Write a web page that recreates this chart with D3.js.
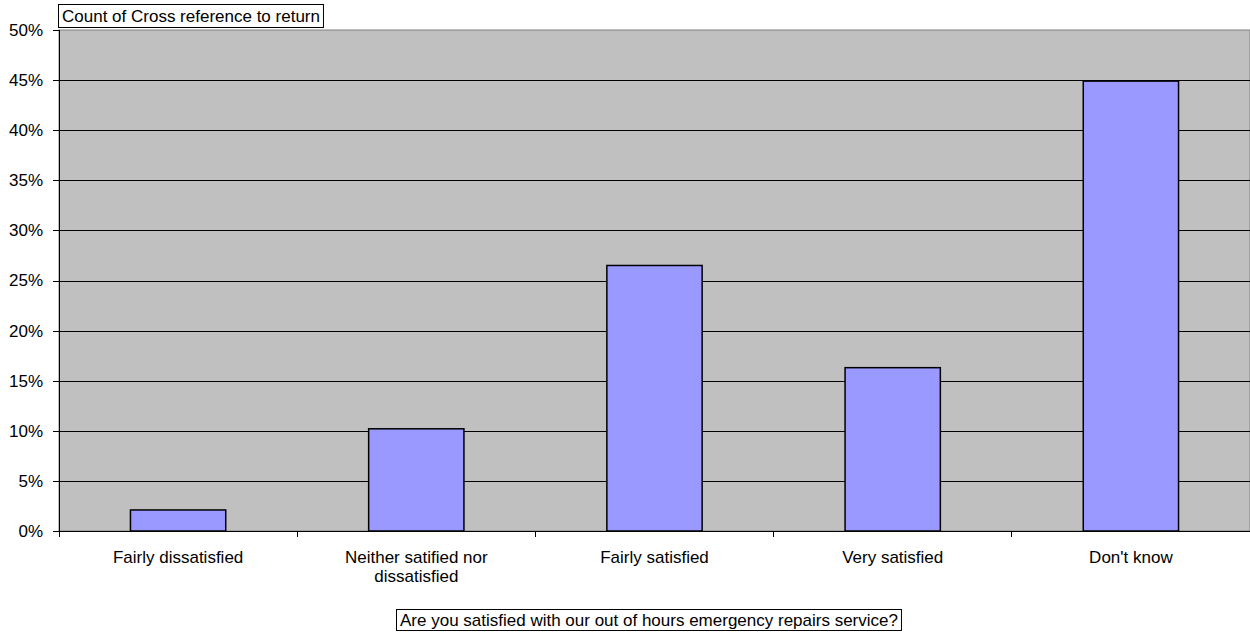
<!DOCTYPE html>
<html>
<head>
<meta charset="utf-8">
<script src="https://cdn.jsdelivr.net/npm/d3@7"></script>
<style>
  html, body { margin: 0; padding: 0; background: #fff; }
  svg { display: block; font-family: "Liberation Sans", Arial, sans-serif; }
</style>
</head>
<body>
<svg id="chart" width="1250" height="633"></svg>
<script>
const categories = ["Fairly dissatisfied", "Neither satified nor dissatisfied", "Fairly satisfied", "Very satisfied", "Don't know"];
const values = [0.021, 0.102, 0.265, 0.163, 0.449];
const yTicks = [0, 0.05, 0.10, 0.15, 0.20, 0.25, 0.30, 0.35, 0.40, 0.45, 0.50];
const seriesTitle = "Count of Cross reference to return";
const axisTitle = "Are you satisfied with our out of hours emergency repairs service?";

(function () {
const svg = d3.select("#chart");
const pLeft = 59, pRight = 1250, pTop = 30, pBottom = 531;
const fontSize = 17;

const x = d3.scaleBand().domain(categories).range([pLeft, pRight]).paddingInner(0.6).paddingOuter(0.3);
const y = d3.scaleLinear().domain([0, 0.5]).range([pBottom, pTop]);

// plot background
svg.append("rect")
  .attr("x", pLeft).attr("y", pTop)
  .attr("width", pRight - pLeft).attr("height", pBottom - pTop)
  .attr("fill", "#c0c0c0").attr("stroke", "#808080").attr("stroke-width", 1);

// gridlines
const grid = svg.append("g").attr("transform", `translate(${pLeft},0)`)
  .call(d3.axisRight(y).tickValues(yTicks.filter(t => t > 0 && t < 0.5)).tickSize(pRight - pLeft).tickFormat(""));
grid.select(".domain").remove();
grid.selectAll("line").attr("stroke", "#000").attr("stroke-width", 1).attr("shape-rendering", "crispEdges");

// bars
svg.append("g").selectAll("rect").data(categories).join("rect")
  .attr("x", d => x(d))
  .attr("y", (d, i) => y(values[i]))
  .attr("width", x.bandwidth())
  .attr("height", (d, i) => y(0) - y(values[i]))
  .attr("fill", "#9999ff").attr("stroke", "#000").attr("stroke-width", 1.5);

// y axis
const yAxis = svg.append("g").attr("transform", `translate(${pLeft},0)`)
  .call(d3.axisLeft(y).tickValues(yTicks).tickSize(6).tickPadding(10).tickFormat(d3.format(".0%")));
yAxis.select(".domain").attr("stroke", "#000").attr("shape-rendering", "crispEdges");
yAxis.selectAll("line").attr("stroke", "#000").attr("shape-rendering", "crispEdges");
yAxis.selectAll("text").attr("font-size", fontSize).attr("fill", "#000").attr("font-family", "Liberation Sans, Arial, sans-serif");

// x axis
const xAxis = svg.append("g").attr("transform", `translate(0,${pBottom})`)
  .call(d3.axisBottom(x).tickSize(0).tickPadding(0));
xAxis.select(".domain").attr("stroke", "#000").attr("d", `M${pLeft},0.5H${pRight}`).attr("shape-rendering", "crispEdges");
xAxis.selectAll(".tick line").remove();
// boundary ticks
const step = x.step();
const bounds = d3.range(categories.length + 1).map(i => pLeft + i * step);
xAxis.selectAll(".btick").data(bounds).join("line")
  .attr("class", "btick")
  .attr("x1", d => d).attr("x2", d => d)
  .attr("y1", 0).attr("y2", 6)
  .attr("stroke", "#000").attr("shape-rendering", "crispEdges");

xAxis.selectAll(".tick text")
  .attr("font-size", fontSize).attr("fill", "#000").attr("font-family", "Liberation Sans, Arial, sans-serif")
  .attr("y", 32).attr("dy", null)
  .each(function(d) {
    const t = d3.select(this);
    const words = d.split(" ");
    t.text(null);
    const maxW = step * 0.8;
    let line = [];
    let lines = [];
    const tspan = t.append("tspan");
    words.forEach(w => {
      line.push(w);
      tspan.text(line.join(" "));
      if (tspan.node().getComputedTextLength() > maxW && line.length > 1) {
        line.pop();
        lines.push(line.join(" "));
        line = [w];
      }
    });
    lines.push(line.join(" "));
    t.text(null);
    lines.forEach((l, i) => {
      t.append("tspan").attr("x", 0).attr("y", 32 + i * 19).text(l);
    });
  });

// series title box (top)
const tg = svg.append("g");
const tt = tg.append("text").attr("x", 62).attr("y", 22)
  .attr("font-size", fontSize).attr("fill", "#000").text(seriesTitle);
const tw = tt.node().getComputedTextLength();
tg.insert("rect", "text").attr("x", 58.5).attr("y", 4.5).attr("width", tw + 7).attr("height", 23)
  .attr("fill", "#fff").attr("stroke", "#000").attr("stroke-width", 1);

// axis title box (bottom)
const bg = svg.append("g");
const bt = bg.append("text").attr("x", 400).attr("y", 626)
  .attr("font-size", fontSize).attr("fill", "#000").text(axisTitle);
const bw = bt.node().getComputedTextLength();
bg.insert("rect", "text").attr("x", 396.5).attr("y", 609.5).attr("width", bw + 7).attr("height", 21)
  .attr("fill", "#fff").attr("stroke", "#000").attr("stroke-width", 1);
})();
</script>
</body>
</html>
